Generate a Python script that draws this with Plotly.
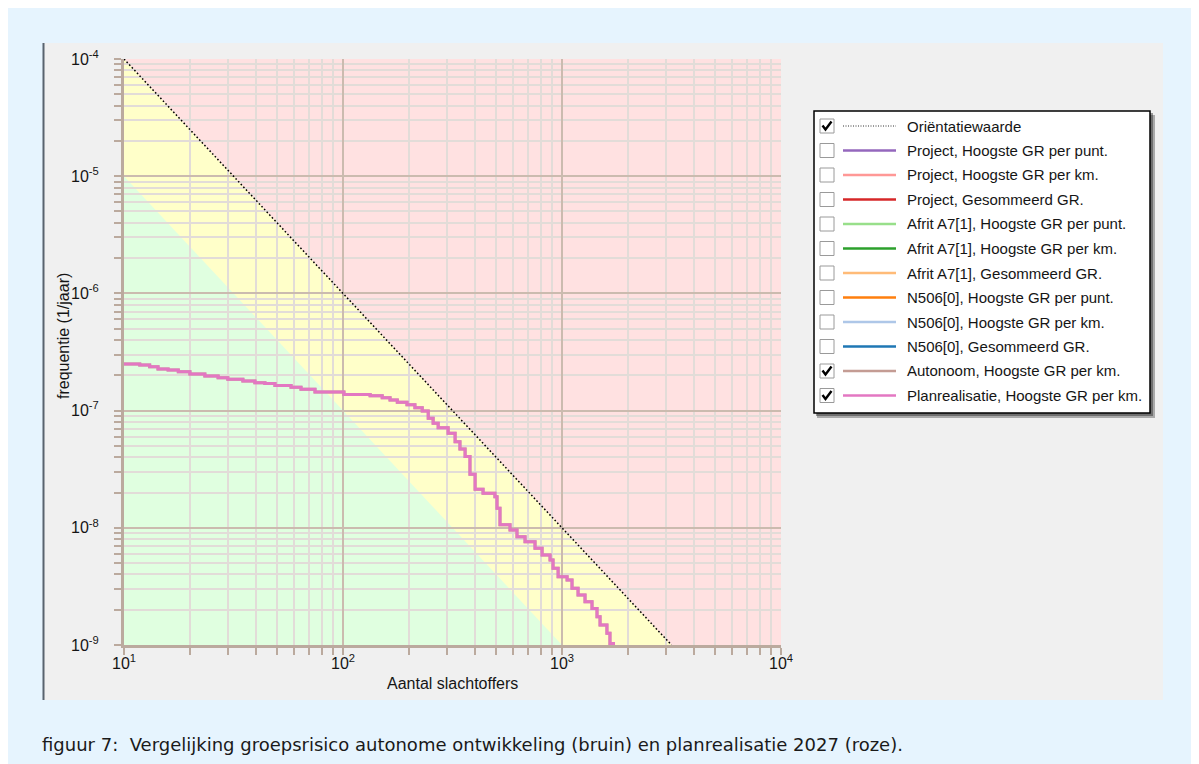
import plotly.graph_objects as go

# ---------------- data ----------------
# Planrealisatie / Autonoom, Hoogste GR per km (fN curve, step-wise)
plan_N = [10, 11.8, 13.1, 14.3, 15.9, 17.7, 20.0, 23.4, 26.9, 29.8,
          34.9, 39.6, 44.0, 48.9, 57.9, 64.3, 74.5, 101, 133, 151,
          164, 177, 196, 213, 230, 245, 258, 272, 302, 325,
          342, 361, 380, 401, 436, 494, 505, 521, 579, 623,
          678, 753, 811, 882, 910, 960, 1055, 1111, 1184, 1274,
          1371, 1445, 1492, 1604, 1656, 1746]
plan_F = [2.50e-7, 2.45e-7, 2.37e-7, 2.26e-7, 2.22e-7, 2.15e-7, 2.05e-7, 1.97e-7, 1.91e-7, 1.85e-7,
          1.79e-7, 1.73e-7, 1.70e-7, 1.64e-7, 1.58e-7, 1.52e-7, 1.44e-7, 1.37e-7, 1.34e-7, 1.29e-7,
          1.23e-7, 1.18e-7, 1.12e-7, 1.06e-7, 9.93e-8, 8.60e-8, 7.79e-8, 7.15e-8, 6.40e-8, 5.43e-8,
          4.70e-8, 4.05e-8, 2.86e-8, 2.13e-8, 1.97e-8, 1.84e-8, 1.47e-8, 1.06e-8, 9.57e-9, 8.39e-9,
          7.60e-9, 6.68e-9, 5.86e-9, 5.31e-9, 4.51e-9, 3.83e-9, 3.59e-9, 3.05e-9, 2.67e-9, 2.34e-9,
          2.05e-9, 1.74e-9, 1.48e-9, 1.26e-9, 1.03e-9, 1.03e-9]
auto_N = plan_N
auto_F = plan_F

# Oriëntatiewaarde line and the lower (factor 10) boundary
orient_N = [10, 3162]
orient_F = [1e-4, 1e-9]
lower_N = [10, 1000]
lower_F = [1e-5, 1e-9]

x_range_vals = [10, 10000]
y_range_vals = [1e-9, 1e-4]

x_tickvals = [10, 100, 1000, 10000]
x_ticktext = ["10<sup>1</sup>", "10<sup>2</sup>", "10<sup>3</sup>", "10<sup>4</sup>"]
y_tickvals = [1e-9, 1e-8, 1e-7, 1e-6, 1e-5, 1e-4]
y_ticktext = ["10<sup>-9</sup>", "10<sup>-8</sup>", "10<sup>-7</sup>", "10<sup>-6</sup>",
              "10<sup>-5</sup>", "10<sup>-4</sup>"]

legend_names = ["Oriëntatiewaarde",
                "Project, Hoogste GR per punt.",
                "Project, Hoogste GR per km.",
                "Project, Gesommeerd GR.",
                "Afrit A7[1], Hoogste GR per punt.",
                "Afrit A7[1], Hoogste GR per km.",
                "Afrit A7[1], Gesommeerd GR.",
                "N506[0], Hoogste GR per punt.",
                "N506[0], Hoogste GR per km.",
                "N506[0], Gesommeerd GR.",
                "Autonoom, Hoogste GR per km.",
                "Planrealisatie, Hoogste GR per km."]
legend_colors = ["#000000", "#9467BD", "#FF9896", "#D62728", "#98DF8A", "#2CA02C",
                 "#FFBB78", "#FF7F0E", "#AEC7E8", "#1F77B4", "#C49C94", "#E377C2"]
legend_checked = [True, False, False, False, False, False, False, False, False, False, True, True]

caption = ("figuur 7:\u00a0\u00a0Vergelijking groepsrisico autonome ontwikkeling (bruin) "
           "en planrealisatie 2027 (roze).")

# ---------------- styling ----------------
OFF = 8                      # page offset of the plot div (body margin)
PW, PH = 1199, 764           # page size
L, R, T, B = 124, 781, 59, 645   # plot area in page pixels
RED = "#FFE1E1"
YELLOW = "#FFFFC9"
GREEN = "#E0FFE0"
BLUE = "#E6F4FE"
PANEL = "#F0F0F0"
MAJOR = "#CBBBAF"
MINOR = "#E2DCD8"
AXIS = "#BBAA9E"
FONT = "Liberation Sans, Arial, sans-serif"
TXT = "#151515"


def px(x):
    return (x - L) / (R - L)


def py(y):
    return (B - y) / (B - T)


def num(v):
    return "{:.12f}".format(v)


fig = go.Figure()

fig.add_trace(go.Scatter(x=orient_N, y=orient_F, mode="lines",
                         line=dict(color="#000000", width=1.5, dash="1.6px,2.2px"),
                         hoverinfo="skip", showlegend=False))
fig.add_trace(go.Scatter(x=auto_N, y=auto_F, mode="lines",
                         line=dict(color=legend_colors[10], width=3, shape="hv"),
                         showlegend=False))
fig.add_trace(go.Scatter(x=plan_N, y=plan_F, mode="lines",
                         line=dict(color=legend_colors[11], width=3, shape="hv"),
                         showlegend=False))

shapes = []
# panel
shapes.append(dict(type="rect", xref="paper", yref="paper", x0=px(43), x1=px(1163),
                   y0=py(700), y1=py(43), fillcolor=PANEL, line=dict(width=0), layer="below"))
shapes.append(dict(type="line", xref="paper", yref="paper", x0=px(43.5), x1=px(43.5),
                   y0=py(700), y1=py(43), line=dict(color="#59636E", width=2), layer="below"))

# risk zones
shapes.append(dict(type="rect", xref="x", yref="y", x0=x_range_vals[0], x1=x_range_vals[1],
                   y0=y_range_vals[0], y1=y_range_vals[1], fillcolor=RED,
                   line=dict(width=0), layer="below"))
shapes.append(dict(type="path", xref="x", yref="y",
                   path="M {},{} L {},{} L {},{} Z".format(num(orient_N[0]), num(orient_F[0]),
                                                          num(orient_N[1]), num(orient_F[1]),
                                                          num(orient_N[0]), num(orient_F[1])),
                   fillcolor=YELLOW, line=dict(width=0), layer="below"))
shapes.append(dict(type="path", xref="x", yref="y",
                   path="M {},{} L {},{} L {},{} Z".format(num(lower_N[0]), num(lower_F[0]),
                                                          num(lower_N[1]), num(lower_F[1]),
                                                          num(lower_N[0]), num(lower_F[1])),
                   fillcolor=GREEN, line=dict(width=0), layer="below"))

# legend box with shadow
shapes.append(dict(type="rect", xref="paper", yref="paper", x0=px(817), x1=px(1155),
                   y0=py(418), y1=py(115), fillcolor="rgba(40,40,40,0.35)", line=dict(width=0)))
shapes.append(dict(type="rect", xref="paper", yref="paper", x0=px(816), x1=px(1153),
                   y0=py(416), y1=py(113), fillcolor="rgba(40,40,40,0.45)", line=dict(width=0)))
shapes.append(dict(type="rect", xref="paper", yref="paper", x0=px(814), x1=px(1150),
                   y0=py(413), y1=py(111), fillcolor="#FFFFFF",
                   line=dict(color="#000000", width=1.5)))

annotations = []
for i, name in enumerate(legend_names):
    yc = 126 + 24.5 * i
    shapes.append(dict(type="rect", xref="paper", yref="paper", x0=px(820), x1=px(834),
                       y0=py(yc + 7), y1=py(yc - 7), fillcolor="#FFFFFF",
                       line=dict(color="#9A9A9A", width=1)))
    if legend_checked[i]:
        shapes.append(dict(type="path", xref="paper", yref="paper",
                           path="M {},{} L {},{} L {},{}".format(px(822.5), py(yc - 0.5),
                                                                 px(825.5), py(yc + 3.5),
                                                                 px(831.5), py(yc - 4.5)),
                           line=dict(color="#000000", width=2.4)))
    if i == 0:
        shapes.append(dict(type="line", xref="paper", yref="paper", x0=px(843), x1=px(896),
                           y0=py(yc), y1=py(yc),
                           line=dict(color="#333333", width=1, dash="1px,1.5px")))
    else:
        shapes.append(dict(type="line", xref="paper", yref="paper", x0=px(843), x1=px(896),
                           y0=py(yc), y1=py(yc),
                           line=dict(color=legend_colors[i], width=2.6)))
    annotations.append(dict(xref="paper", yref="paper", x=px(905), y=py(yc), xanchor="left",
                            yanchor="middle", text=name, showarrow=False,
                            font=dict(family=FONT, size=15, color=TXT)))

# axis titles
annotations.append(dict(xref="paper", yref="paper", x=px(452), y=py(683), xanchor="center",
                        yanchor="middle", text="Aantal slachtoffers", showarrow=False,
                        font=dict(family=FONT, size=16, color=TXT)))
annotations.append(dict(xref="paper", yref="paper", x=px(63), y=py(336), xanchor="center",
                        yanchor="middle", text="frequentie (1/jaar)", showarrow=False,
                        textangle=-90, font=dict(family=FONT, size=16, color=TXT)))
# caption
annotations.append(dict(xref="paper", yref="paper", x=px(40), y=py(744), xanchor="left",
                        yanchor="middle", text=caption, showarrow=False,
                        font=dict(family="DejaVu Sans, sans-serif", size=18, color="#1A1A1A")))

axis_common = dict(type="log", showgrid=True, gridcolor=MAJOR, gridwidth=2,
                   showline=True, linecolor=AXIS, linewidth=3, zeroline=False,
                   ticks="", tickmode="array",
                   tickfont=dict(family=FONT, size=16, color=TXT),
                   minor=dict(dtick="D1", ticks="outside", ticklen=7, tickwidth=2,
                              tickcolor=AXIS, showgrid=True, gridcolor=MINOR, gridwidth=1.6))

fig.update_layout(
    width=PW - OFF, height=PH - OFF,
    margin=dict(l=L - OFF, r=PW - R, t=T - OFF, b=PH - B, pad=0),
    paper_bgcolor=BLUE,
    plot_bgcolor=RED,
    showlegend=False,
    xaxis=dict(axis_common, range=[1, 4], tickvals=x_tickvals, ticktext=x_ticktext,
               ticklabelstandoff=2),
    yaxis=dict(axis_common, range=[-9, -4], tickvals=y_tickvals, ticktext=y_ticktext,
               ticklabelstandoff=19),
    shapes=shapes,
    annotations=annotations,
)

fig.write_html("out.html")
